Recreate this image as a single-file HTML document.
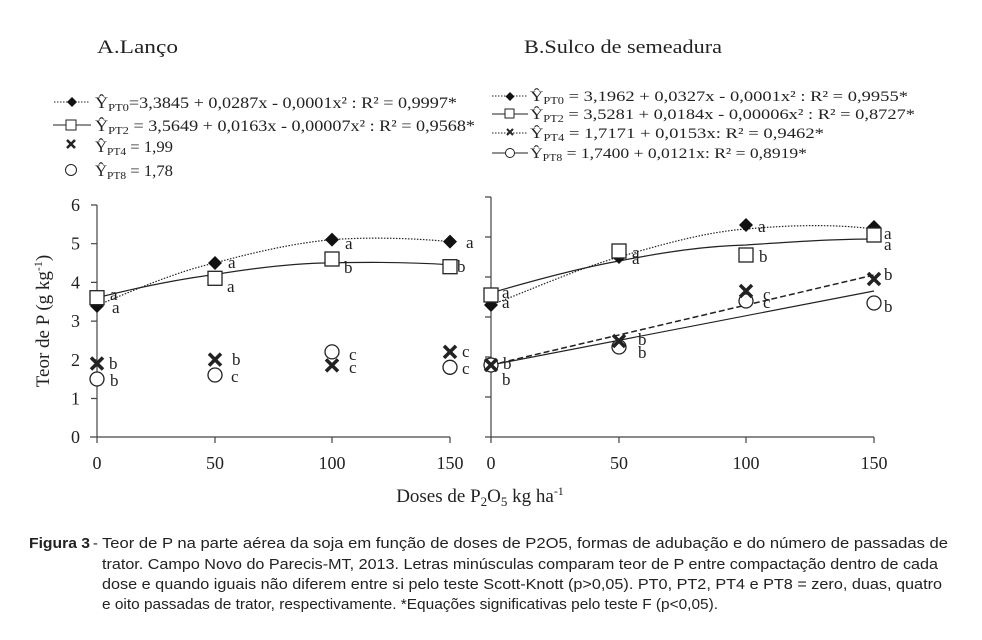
<!DOCTYPE html>
<html><head><meta charset="utf-8"><style>
html,body{margin:0;padding:0;background:#fff;}
svg{display:block;}
.s{font-family:"Liberation Serif",serif;fill:#222;}
.c{font-family:"Liberation Sans",sans-serif;fill:#222;}
</style></head><body>
<svg width="982" height="640" viewBox="0 0 982 640" xmlns="http://www.w3.org/2000/svg">
<rect width="982" height="640" fill="#fff"/>
<text class="s" x="97" y="53" font-size="19" textLength="81" lengthAdjust="spacingAndGlyphs">A.Lanço</text>
<text class="s" x="524" y="53" font-size="19" textLength="198" lengthAdjust="spacingAndGlyphs">B.Sulco de semeadura</text>

<g stroke="#222" fill="none">
<line x1="54" y1="102" x2="90" y2="102" stroke-dasharray="1.5,1.5" stroke-width="1"/>
<line x1="53" y1="125" x2="91" y2="125"/>
<rect x="66" y="120" width="10" height="10" fill="#fff"/>
<path d="M67,140 l8,8 M75,140 l-8,8" stroke-width="2.5"/>
<circle cx="71" cy="170" r="5.5"/>
</g>
<path d="M72,97 l5,5 l-5,5 l-5,-5z" fill="#111"/>
<g class="s" font-size="16">
<text x="95" y="108" textLength="362" lengthAdjust="spacingAndGlyphs">Ŷ<tspan font-size="11" dy="3">PT0</tspan><tspan dy="-3">=3,3845 + 0,0287x - 0,0001x² : R² = 0,9997*</tspan></text>
<text x="95" y="131" textLength="380" lengthAdjust="spacingAndGlyphs">Ŷ<tspan font-size="11" dy="3">PT2</tspan><tspan dy="-3"> = 3,5649 + 0,0163x - 0,00007x² : R² = 0,9568*</tspan></text>
<text x="95" y="152" textLength="78" lengthAdjust="spacingAndGlyphs">Ŷ<tspan font-size="11" dy="3">PT4</tspan><tspan dy="-3"> = 1,99</tspan></text>
<text x="95" y="176" textLength="78" lengthAdjust="spacingAndGlyphs">Ŷ<tspan font-size="11" dy="3">PT8</tspan><tspan dy="-3"> = 1,78</tspan></text>
</g>

<g stroke="#222" fill="none">
<line x1="492" y1="96" x2="528" y2="96" stroke-dasharray="1.5,1.5"/>
<line x1="492" y1="114" x2="528" y2="114"/>
<rect x="505" y="109" width="9" height="9" fill="#fff"/>
<line x1="492" y1="133" x2="528" y2="133" stroke-dasharray="1.5,1.5"/>
<path d="M507,129 l6,6 M513,129 l-6,6" stroke-width="2"/>
<line x1="492" y1="153" x2="528" y2="153"/>
<circle cx="510" cy="153" r="4.5" fill="#fff"/>
</g>
<path d="M510,92 l4.5,4.5 l-4.5,4.5 l-4.5,-4.5z" fill="#111"/>
<g class="s" font-size="15">
<text x="530" y="101" textLength="378" lengthAdjust="spacingAndGlyphs">Ŷ<tspan font-size="10" dy="3">PT0</tspan><tspan dy="-3"> = 3,1962 + 0,0327x - 0,0001x² : R² = 0,9955*</tspan></text>
<text x="530" y="119" textLength="385" lengthAdjust="spacingAndGlyphs">Ŷ<tspan font-size="10" dy="3">PT2</tspan><tspan dy="-3"> = 3,5281 + 0,0184x - 0,00006x² : R² = 0,8727*</tspan></text>
<text x="530" y="138" textLength="294" lengthAdjust="spacingAndGlyphs">Ŷ<tspan font-size="10" dy="3">PT4</tspan><tspan dy="-3"> = 1,7171 + 0,0153x: R² = 0,9462*</tspan></text>
<text x="530" y="158" textLength="277" lengthAdjust="spacingAndGlyphs">Ŷ<tspan font-size="10" dy="3">PT8</tspan><tspan dy="-3"> = 1,7400 + 0,0121x: R² = 0,8919*</tspan></text>
</g>

<g stroke="#444" stroke-width="1.2" fill="none">
<line x1="97" y1="205" x2="97" y2="443"/>
<line x1="90" y1="437" x2="450" y2="437"/>
<path d="M91,205h6 M91,243.7h6 M91,282.4h6 M91,321.1h6 M91,359.8h6 M91,398.5h6"/>
<path d="M215,437v6 M332,437v6 M450,437v6"/>
</g>
<g class="s" font-size="18" text-anchor="end">
<text x="80" y="211">6</text><text x="80" y="249.7">5</text><text x="80" y="288.4">4</text>
<text x="80" y="327.1">3</text><text x="80" y="365.8">2</text><text x="80" y="404.5">1</text><text x="80" y="443">0</text>
</g>
<g class="s" font-size="18" text-anchor="middle">
<text x="97" y="469">0</text><text x="215" y="469">50</text><text x="332" y="469">100</text><text x="450" y="469">150</text>
</g>
<text class="s" font-size="19" transform="translate(49,321) rotate(-90)" text-anchor="middle">Teor de P (g kg<tspan font-size="12" dy="-7">-1</tspan><tspan dy="7">)</tspan></text>

<g stroke="#444" stroke-width="1.2" fill="none">
<line x1="491" y1="197" x2="491" y2="443"/>
<line x1="485" y1="437" x2="874" y2="437"/>
<path d="M485,197h6 M485,237h6 M485,277h6 M485,317h6 M485,357h6 M485,397h6"/>
<path d="M619,437v6 M746,437v6 M874,437v6"/>
</g>
<g class="s" font-size="18" text-anchor="middle">
<text x="491" y="469">0</text><text x="619" y="469">50</text><text x="746" y="469">100</text><text x="874" y="469">150</text>
</g>

<text class="s" x="480" y="502" font-size="19" text-anchor="middle">Doses de P<tspan font-size="13" dy="4">2</tspan><tspan dy="-4">O</tspan><tspan font-size="13" dy="4">5</tspan><tspan dy="-4"> kg ha</tspan><tspan font-size="12" dy="-7">-1</tspan></text>

<g fill="none" stroke="#222">
<path d="M97,305.4 C135,290 175,272 215,262.9 C255,252 295,243 332,239.6 C370,237 410,238 450,241.6" stroke-dasharray="1.5,1.5" stroke-width="1.2"/>
<path d="M97,297.7 C140,287 180,279 215,274.5 C255,268 295,263 332,262.9 C370,262 410,262 450,264.8" stroke-width="1.2"/>
</g>
<g fill="#111">
<path d="M97,299 l7,7 l-7,7 l-7,-7z"/><path d="M215,256 l7,7 l-7,7 l-7,-7z"/>
<path d="M332,232.6 l7,7 l-7,7 l-7,-7z"/><path d="M450,234.6 l7,7 l-7,7 l-7,-7z"/>
</g>
<g fill="#fff" stroke="#222" stroke-width="1.3">
<rect x="90" y="290.7" width="14" height="14"/><rect x="208" y="271.3" width="14" height="14"/>
<rect x="325" y="252" width="14" height="14"/><rect x="443" y="259.7" width="14" height="14"/>
<circle cx="97" cy="379" r="7"/><circle cx="215" cy="375" r="7"/><circle cx="332" cy="351.9" r="7"/><circle cx="450" cy="367.3" r="7"/>
</g>
<g stroke="#222" stroke-width="3.5">
<path d="M91,357.5l12,12M103,357.5l-12,12"/><path d="M209,353.6l12,12M221,353.6l-12,12"/>
<path d="M326,359.4l12,12M338,359.4l-12,12"/><path d="M444,345.9l12,12M456,345.9l-12,12"/>
</g>
<g class="s" font-size="17">
<text x="110" y="300">a</text><text x="112" y="313">a</text><text x="109" y="369">b</text><text x="110" y="386">b</text>
<text x="228" y="268">a</text><text x="227" y="292">a</text><text x="232" y="365">b</text><text x="231" y="382">c</text>
<text x="345" y="249">a</text><text x="344" y="273">b</text><text x="349" y="360">c</text><text x="349" y="373">c</text>
<text x="466" y="248">a</text><text x="457" y="272">b</text><text x="462" y="357">c</text><text x="462" y="374">c</text>
</g>

<g fill="none" stroke="#222">
<path d="M491,305 C530,290 580,268 619,257 C660,245 705,232 746,229 C790,225 835,224 874,229" stroke-dasharray="1.5,1.5" stroke-width="1.2"/>
<path d="M491,293 C535,280 580,268 619,261 C665,252 705,246 746,245 C790,242 835,239 874,239" stroke-width="1.2"/>
<line x1="491" y1="365" x2="874" y2="275" stroke-dasharray="6,3" stroke-width="1.5"/>
<line x1="491" y1="365" x2="874" y2="291" stroke-width="1.2"/>
</g>
<g fill="#111">
<path d="M491,298 l7,7 l-7,7 l-7,-7z"/><path d="M619,250 l7,7 l-7,7 l-7,-7z"/>
<path d="M746,218 l7,7 l-7,7 l-7,-7z"/><path d="M874,220 l7,7 l-7,7 l-7,-7z"/>
</g>
<g fill="#fff" stroke="#222" stroke-width="1.3">
<rect x="484" y="288" width="14" height="14"/><rect x="612" y="244" width="14" height="14"/>
<rect x="739" y="248" width="14" height="14"/><rect x="867" y="228" width="14" height="14"/>
<circle cx="491" cy="365" r="7"/><circle cx="619" cy="347" r="7"/><circle cx="746" cy="301" r="7"/><circle cx="874" cy="303" r="7"/>
</g>
<g stroke="#222" stroke-width="3.5">
<path d="M485,359l12,12M497,359l-12,12"/><path d="M613,335l12,12M625,335l-12,12"/>
<path d="M740,285l12,12M752,285l-12,12"/><path d="M868,273l12,12M880,273l-12,12"/>
</g>
<g class="s" font-size="17">
<text x="502" y="298">a</text><text x="502" y="308">a</text><text x="503" y="369">b</text><text x="502" y="385">b</text>
<text x="632" y="258">a</text><text x="632" y="264">a</text><text x="638" y="345">b</text><text x="638" y="358">b</text>
<text x="758" y="232">a</text><text x="759" y="262">b</text><text x="763" y="300">c</text><text x="763" y="308">c</text>
<text x="884" y="239">a</text><text x="884" y="250">a</text><text x="884" y="280">b</text><text x="884" y="312">b</text>
</g>

<g class="c" font-size="14.5">
<text x="29" y="548" font-weight="bold" textLength="61" lengthAdjust="spacingAndGlyphs">Figura 3</text>
<text x="93" y="548">-</text>
<text x="102" y="548" textLength="846" lengthAdjust="spacingAndGlyphs">Teor de P na parte aérea da soja em função de doses de P2O5, formas de adubação e do número de passadas de</text>
<text x="102" y="569" textLength="836" lengthAdjust="spacingAndGlyphs">trator. Campo Novo do Parecis-MT, 2013. Letras minúsculas comparam teor de P entre compactação dentro de cada</text>
<text x="102" y="589" textLength="840" lengthAdjust="spacingAndGlyphs">dose e quando iguais não diferem entre si pelo teste Scott-Knott (p&gt;0,05). PT0, PT2, PT4 e PT8 = zero, duas, quatro</text>
<text x="102" y="609" textLength="616" lengthAdjust="spacingAndGlyphs">e oito passadas de trator, respectivamente. *Equações significativas pelo teste F (p&lt;0,05).</text>
</g>
</svg>
</body></html>
